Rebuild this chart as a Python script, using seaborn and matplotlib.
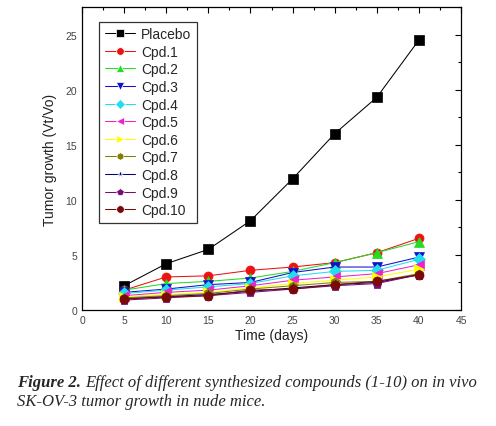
import matplotlib
matplotlib.use("Agg")
import matplotlib.pyplot as plt
import seaborn as sns
import pandas as pd
from matplotlib.ticker import MultipleLocator

days = [5, 10, 15, 20, 25, 30, 35, 40]
placebo = [2.2, 4.2, 5.5, 8.1, 11.9, 16.0, 19.3, 24.5]
cpd1 = [1.8, 3.0, 3.1, 3.6, 3.9, 4.3, 5.2, 6.5]
cpd2 = [1.8, 2.4, 2.6, 2.9, 3.5, 4.3, 5.2, 6.2]
cpd3 = [1.6, 1.9, 2.3, 2.5, 3.4, 3.9, 3.9, 4.8]
cpd4 = [1.5, 1.8, 2.1, 2.4, 3.1, 3.5, 3.6, 4.6]
cpd5 = [1.3, 1.6, 1.8, 2.2, 2.7, 3.0, 3.3, 4.1]
cpd6 = [1.2, 1.4, 1.6, 2.0, 2.4, 2.7, 3.0, 3.7]
cpd7 = [1.1, 1.3, 1.5, 1.9, 2.2, 2.5, 2.6, 3.3]
cpd8 = [1.0, 1.2, 1.4, 1.7, 2.0, 2.3, 2.5, 3.2]
cpd9 = [0.9, 1.1, 1.3, 1.6, 1.9, 2.2, 2.4, 3.2]
cpd10 = [1.0, 1.2, 1.3, 1.8, 1.9, 2.3, 2.6, 3.2]

names = ["Placebo", "Cpd.1", "Cpd.2", "Cpd.3", "Cpd.4", "Cpd.5",
         "Cpd.6", "Cpd.7", "Cpd.8", "Cpd.9", "Cpd.10"]
series = [placebo, cpd1, cpd2, cpd3, cpd4, cpd5, cpd6, cpd7, cpd8, cpd9, cpd10]
colors = ["#000000", "#ee1111", "#22dd22", "#1111cc", "#22ddee", "#ee22cc",
          "#ffff00", "#808000", "#000070", "#7a0a7a", "#7a0a0a"]
marks = ["s", "o", "^", "v", "D", "<", ">", "h", "*", "p", "o"]

rows = []
for n, s in zip(names, series):
    for d, v in zip(days, s):
        rows.append({"Time": d, "Growth": v, "Group": n})
df = pd.DataFrame(rows)

sns.set_theme(style="white")
plt.rcParams["font.family"] = ["Liberation Sans", "DejaVu Sans"]

fig = plt.figure(figsize=(4.96, 4.27), dpi=100)
ax = fig.add_axes([82/496, 1 - 311/427, (461-82)/496, (311-8)/427])

sns.lineplot(data=df, x="Time", y="Growth", hue="Group", style="Group",
             hue_order=names, style_order=names,
             palette=dict(zip(names, colors)),
             markers=dict(zip(names, marks)), dashes=False,
             linewidth=0.75, markersize=6.5, markeredgewidth=0.5,
             ax=ax, legend=True)
for line, c in zip(ax.lines, colors):
    line.set_markeredgecolor(c)

ax.set_xlim(0, 45)
ax.set_ylim(0, 27.5)
ax.xaxis.set_major_locator(MultipleLocator(5))
ax.xaxis.set_minor_locator(MultipleLocator(2.5))
ax.yaxis.set_major_locator(MultipleLocator(5))
ax.yaxis.set_minor_locator(MultipleLocator(2.5))
ax.tick_params(which="both", direction="in", top=True, right=True,
               labeltop=False, labelright=False, color="black",
               labelsize=7.5, labelcolor="#444444")
ax.tick_params(which="major", length=4, width=0.8)
ax.tick_params(which="minor", length=2.5, width=0.8)
for sp in ax.spines.values():
    sp.set_color("black")
    sp.set_linewidth(0.9)

ax.set_xlabel("Time (days)", fontsize=10, color="#222222", labelpad=2)
ax.set_ylabel("Tumor growth (Vt/Vo)", fontsize=10, color="#222222", labelpad=6)

leg = ax.legend(loc="upper left", bbox_to_anchor=(0.027, 0.975), fontsize=10,
                frameon=True, fancybox=False, edgecolor="black",
                handlelength=2.2, handletextpad=0.4, labelspacing=0.26,
                borderpad=0.4, title=None)
leg.get_frame().set_linewidth(0.9)
for h in leg.legend_handles:
    h.set_markersize(5.5)

cap_kw = dict(fontsize=12, family="Liberation Serif", style="italic",
              va="center")
t1 = fig.text(17/496, 1 - 383/427, "Figure 2.", weight="bold", **cap_kw)
fig.canvas.draw()
bb = t1.get_window_extent()
fig.text((bb.x1 + 4)/496, 1 - 383/427,
         "Effect of different synthesized compounds (1-10) on in vivo",
         **cap_kw)
fig.text(17/496, 1 - 402/427, "SK-OV-3 tumor growth in nude mice.", **cap_kw)

fig.savefig("out.png", dpi=100)
